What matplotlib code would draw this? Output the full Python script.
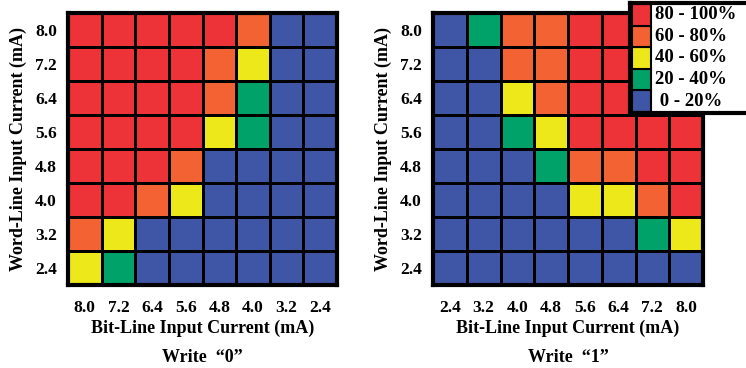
import numpy as np
import matplotlib
matplotlib.use("Agg")
import matplotlib.pyplot as plt
from matplotlib.colors import ListedColormap, BoundaryNorm

plt.rcParams['font.family'] = ['Liberation Serif', 'DejaVu Serif']
plt.rcParams['font.weight'] = 'bold'

# success-rate level per cell: 0 = 0-20%, 1 = 20-40%, 2 = 40-60%, 3 = 60-80%, 4 = 80-100%
# rows top -> bottom (word-line 8.0 ... 2.4)
write0_levels = [
    [4, 4, 4, 4, 4, 3, 0, 0],
    [4, 4, 4, 4, 3, 2, 0, 0],
    [4, 4, 4, 4, 3, 1, 0, 0],
    [4, 4, 4, 4, 2, 1, 0, 0],
    [4, 4, 4, 3, 0, 0, 0, 0],
    [4, 4, 3, 2, 0, 0, 0, 0],
    [3, 2, 0, 0, 0, 0, 0, 0],
    [2, 1, 0, 0, 0, 0, 0, 0],
]
write1_levels = [
    [0, 1, 3, 3, 4, 4, 4, 4],
    [0, 0, 3, 3, 4, 4, 4, 4],
    [0, 0, 2, 3, 4, 4, 4, 4],
    [0, 0, 1, 2, 4, 4, 4, 4],
    [0, 0, 0, 1, 3, 3, 4, 4],
    [0, 0, 0, 0, 2, 2, 3, 4],
    [0, 0, 0, 0, 0, 0, 1, 2],
    [0, 0, 0, 0, 0, 0, 0, 0],
]
word_ticks = ["8.0", "7.2", "6.4", "5.6", "4.8", "4.0", "3.2", "2.4"]
bit_ticks0 = ["8.0", "7.2", "6.4", "5.6", "4.8", "4.0", "3.2", "2.4"]
bit_ticks1 = ["2.4", "3.2", "4.0", "4.8", "5.6", "6.4", "7.2", "8.0"]
legend_labels = ["0 - 20%", "20 - 40%", "40 - 60%", "60 - 80%", "80 - 100%"]
colors = ["#3f55a5", "#00a26a", "#ede81a", "#f26233", "#ee3338"]

cmap = ListedColormap(colors)
norm = BoundaryNorm(np.arange(-0.5, 5.5, 1), cmap.N)

W, H = 746, 368
fig = plt.figure(figsize=(W / 100, H / 100), dpi=100)


def panel(rect, levels, xticks, title):
    ax = fig.add_axes(rect)
    data = np.array(levels)[::-1]
    ax.pcolormesh(data, cmap=cmap, norm=norm, edgecolors='black', linewidth=0.9)
    ax.set_xlim(0, 8)
    ax.set_ylim(0, 8)
    ax.set_xticks(np.arange(8) + 0.5)
    ax.set_xticklabels(xticks, fontsize=12.5, fontweight='bold')
    ax.set_yticks(np.arange(8) + 0.5)
    ax.set_yticklabels(word_ticks[::-1], fontsize=12.5, fontweight='bold')
    ax.tick_params(axis='x', length=0, pad=11)
    ax.tick_params(axis='y', length=0, pad=8)
    for s in ax.spines.values():
        s.set_linewidth(3)
    ax.set_xlabel("Bit-Line Input Current (mA)", fontsize=13, fontweight='bold')
    ax.xaxis.set_label_coords(0.5, -43 / 272, transform=ax.transAxes)
    ax.xaxis.label.set_va('center')
    ax.set_ylabel("Word-Line Input Current (mA)", fontsize=13, fontweight='bold', labelpad=6)
    x0, w = rect[0], rect[2]
    fig.text(x0 + w / 2, 1 - 357 / H, title, ha='center', va='center', fontsize=13, fontweight='bold')
    return ax


panel([68 / W, 1 - 285 / H, 269 / W, 272 / H], write0_levels, bit_ticks0, "Write  \u201c0\u201d")
panel([433 / W, 1 - 285 / H, 270 / W, 272 / H], write1_levels, bit_ticks1, "Write  \u201c1\u201d")

# legend box
lax = fig.add_axes([630 / W, 1 - 113 / H, 130 / W, 110 / H])
lax.set_facecolor('white')
pos = np.arange(5)
lax.barh(pos, [1] * 5, height=1, left=0.1, color=colors, edgecolor='black', linewidth=1.5)
for i, lab in enumerate(legend_labels):
    lax.text(1.3, i, lab if i else " " + lab, va='center', ha='left', fontsize=13.5, fontweight='bold')
lax.set_xlim(0, 6.8)
lax.set_ylim(-0.55, 4.55)
lax.set_xticks([])
lax.set_yticks([])
for s in lax.spines.values():
    s.set_linewidth(3)

fig.savefig("out.png", dpi=100)
